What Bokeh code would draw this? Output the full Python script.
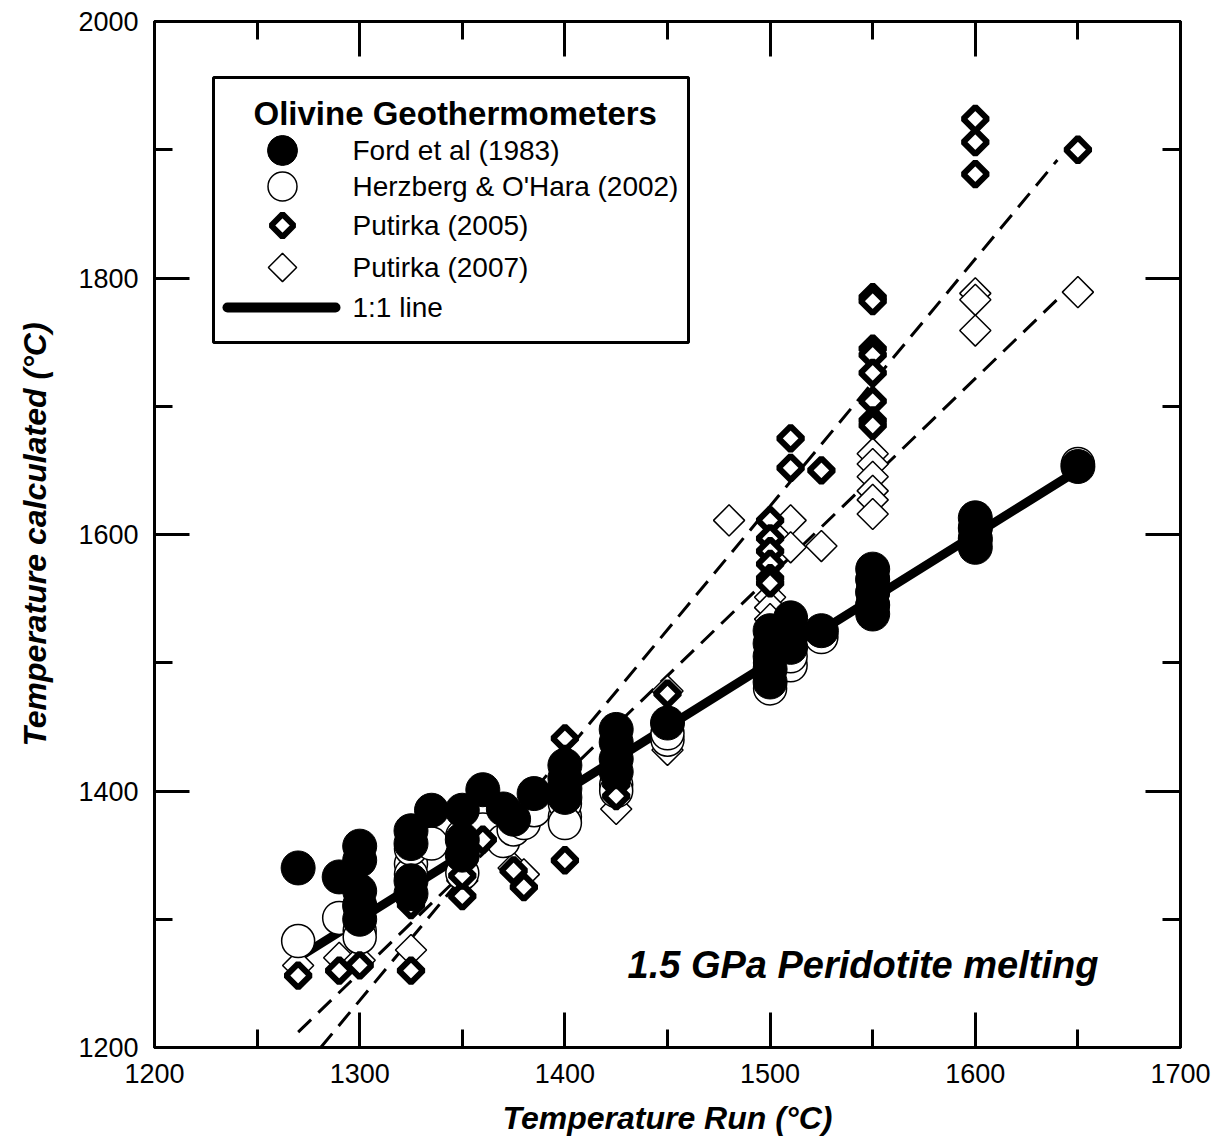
import math
from bokeh.plotting import figure
from bokeh.models import Range1d, FixedTicker, LinearAxis, Label, CustomJSTickFormatter
from bokeh.embed import file_html
from bokeh.resources import INLINE

# ---------------- data ----------------
ford_x = [1270, 1290, 1300, 1300, 1300, 1300, 1300, 1325, 1325, 1325, 1325, 1335,
          1350, 1350, 1350, 1360, 1370, 1375, 1385, 1400, 1400, 1400, 1400,
          1425, 1425, 1425, 1425, 1450, 1500, 1500, 1500, 1500, 1500,
          1510, 1510, 1510, 1525, 1550, 1550, 1550, 1550, 1550,
          1600, 1600, 1600, 1600, 1650]
ford_y = [1340, 1333, 1357, 1346, 1322, 1311, 1300, 1369, 1359, 1330, 1320, 1385,
          1385, 1362, 1350, 1401, 1386, 1378, 1398, 1420, 1410, 1402, 1395,
          1448, 1438, 1425, 1415, 1453, 1525, 1515, 1505, 1495, 1485,
          1535, 1520, 1512, 1525, 1573, 1565, 1555, 1545, 1538,
          1613, 1605, 1597, 1590, 1653]

herz_x = [1270, 1290, 1300, 1300, 1300, 1325, 1325, 1325, 1335, 1350, 1350, 1360,
          1370, 1375, 1380, 1385, 1400, 1400, 1400, 1425, 1425, 1450, 1450,
          1500, 1500, 1500, 1510, 1510, 1525, 1550, 1550, 1550, 1600, 1600, 1650]
herz_y = [1283, 1301, 1291, 1286, 1310, 1343, 1335, 1355, 1359, 1336, 1365, 1370,
          1361, 1370, 1375, 1385, 1380, 1390, 1375, 1405, 1400, 1440, 1445,
          1480, 1490, 1500, 1498, 1505, 1520, 1545, 1555, 1565, 1595, 1605, 1655]

p05_x = [1270, 1290, 1300, 1325, 1325, 1350, 1350, 1360, 1375, 1380,
         1400, 1400, 1400, 1400, 1400, 1400, 1425, 1425, 1425, 1450,
         1500, 1500, 1500, 1500, 1500, 1500, 1510, 1510, 1525,
         1550, 1550, 1550, 1550, 1550, 1550, 1550, 1550, 1600, 1600, 1600, 1650]
p05_y = [1256, 1260, 1264, 1260, 1311, 1318, 1334, 1362, 1338, 1325,
         1441, 1425, 1415, 1405, 1393, 1346, 1420, 1405, 1396, 1476,
         1611, 1597, 1587, 1577, 1566, 1562, 1675, 1652, 1650,
         1785, 1782, 1745, 1740, 1726, 1704, 1689, 1685, 1924, 1906, 1881, 1900]

p07_x = [1270, 1290, 1300, 1325, 1325, 1350, 1350, 1360, 1375, 1380,
         1400, 1400, 1400, 1425, 1425, 1450, 1450, 1450, 1480,
         1500, 1500, 1500, 1500, 1510, 1510, 1525,
         1550, 1550, 1550, 1550, 1550, 1550, 1600, 1600, 1600, 1650]
p07_y = [1264, 1270, 1268, 1276, 1320, 1330, 1345, 1365, 1340, 1335,
         1375, 1385, 1395, 1386, 1400, 1432, 1445, 1478, 1611,
         1551, 1543, 1534, 1525, 1611, 1590, 1591,
         1663, 1655, 1645, 1634, 1627, 1616, 1788, 1783, 1759, 1789]

one_x = [1270, 1650]
one_y = [1270, 1650]
fit05_x = [1281, 1640]
fit05_y = [1200, 1892]
fit07_x = [1270, 1643]
fit07_y = [1212, 1788]

x_ticks = [1200, 1300, 1400, 1500, 1600, 1700]
x_minor = [1250, 1350, 1450, 1550, 1650]
y_ticks = [1200, 1400, 1600, 1800, 2000]
y_minor = [1300, 1500, 1700, 1900]

series_labels = ["Ford et al (1983)", "Herzberg & O'Hara (2002)",
                 "Putirka (2005)", "Putirka (2007)", "1:1 line"]
legend_title = "Olivine Geothermometers"
note_text = "1.5 GPa Peridotite melting"

FONT = "Liberation Sans"

# ---------------- figure ----------------
p = figure(width=1221, height=1146,
           x_range=Range1d(1200, 1700), y_range=Range1d(1200, 2000),
           output_backend="svg", toolbar_location=None,
           min_border_left=154, min_border_right=41,
           min_border_top=21, min_border_bottom=99)
p.grid.visible = False
p.outline_line_color = "black"
p.outline_line_width = 3
p.background_fill_color = "white"
p.border_fill_color = "white"

# pixel-space ranges for the hand-drawn legend box
p.extra_x_ranges = {"px": Range1d(0, 1026)}
p.extra_y_ranges = {"px": Range1d(0, 1026)}

xt = FixedTicker(ticks=x_ticks, minor_ticks=x_minor)
yt = FixedTicker(ticks=y_ticks, minor_ticks=y_minor)
xb = p.below[0]
yl = p.left[0]
xb.ticker = xt
yl.ticker = yt

top = LinearAxis(ticker=xt, formatter=CustomJSTickFormatter(code="return ''"))
right = LinearAxis(ticker=yt, formatter=CustomJSTickFormatter(code="return ''"))
p.add_layout(top, "above")
p.add_layout(right, "right")

for ax in [xb, yl, top, right]:
    ax.major_tick_in = 35
    ax.major_tick_out = 0
    ax.minor_tick_in = 18
    ax.minor_tick_out = 0
    ax.axis_line_width = 3
    ax.major_tick_line_width = 3
    ax.minor_tick_line_width = 3
    ax.axis_line_color = "black"
    ax.major_tick_line_color = "black"
    ax.minor_tick_line_color = "black"
    ax.major_label_text_font = FONT
    ax.major_label_text_font_size = "27px"
    ax.major_label_text_color = "black"
for ax in [top, right]:
    ax.major_label_standoff = 0
    ax.major_label_text_font_size = "1px"

xb.axis_label = "Temperature Run (°C)"
yl.axis_label = "Temperature calculated (°C)"
for ax in [xb, yl]:
    ax.axis_label_text_font = FONT
    ax.axis_label_text_font_size = "32px"
    ax.axis_label_text_font_style = "bold italic"
    ax.axis_label_text_color = "black"
xb.major_label_standoff = 16
xb.axis_label_standoff = 14
yl.major_label_standoff = 16
yl.axis_label_standoff = 22

# ---------------- lines ----------------
p.line(fit05_x, fit05_y, line_color="black", line_width=3, line_dash="18 10")
p.line(fit07_x, fit07_y, line_color="black", line_width=3, line_dash="18 10")
p.line(one_x, one_y, line_color="black", line_width=9, line_cap="round")

# ---------------- markers ----------------
DIAM = math.pi / 4
p.scatter(p07_x, p07_y, marker="square", angle=DIAM, size=22,
          fill_color="white", line_color="black", line_width=1.5)
p.scatter(herz_x, herz_y, marker="circle", size=33,
          fill_color="white", line_color="black", line_width=1.5)
p.scatter(p05_x, p05_y, marker="square", angle=DIAM, size=17,
          fill_color="white", line_color="black", line_width=6)
p.scatter(ford_x, ford_y, marker="circle", size=34,
          fill_color="black", line_color="black", line_width=1)

# ---------------- note ----------------
p.add_layout(Label(x=1660, y=1264, text=note_text, text_align="right",
                   text_baseline="middle", text_font=FONT,
                   text_font_size="38px", text_font_style="bold italic",
                   text_color="black"))

# ---------------- legend (pixel space inside the frame) ----------------
LG = dict(left=59, right=534, bottom=705, top=970,
          title_x=99, title_y=934, mark_x=128, text_x=198,
          rows=[897, 861, 822, 780, 740], line_x0=73, line_x1=181)
kw = dict(x_range_name="px", y_range_name="px")
p.quad(left=[LG["left"]], right=[LG["right"]], bottom=[LG["bottom"]], top=[LG["top"]],
       fill_color="white", line_color="black", line_width=3, **kw)
r = LG["rows"]
p.scatter([LG["mark_x"]], [r[0]], marker="circle", size=30,
          fill_color="black", line_color="black", **kw)
p.scatter([LG["mark_x"]], [r[1]], marker="circle", size=29,
          fill_color="white", line_color="black", line_width=1.5, **kw)
p.scatter([LG["mark_x"]], [r[2]], marker="square", angle=DIAM, size=16,
          fill_color="white", line_color="black", line_width=6, **kw)
p.scatter([LG["mark_x"]], [r[3]], marker="square", angle=DIAM, size=20,
          fill_color="white", line_color="black", line_width=1.5, **kw)
p.line([LG["line_x0"], LG["line_x1"]], [r[4], r[4]], line_color="black",
       line_width=10, line_cap="round", **kw)
p.add_layout(Label(x=LG["title_x"], y=LG["title_y"], text=legend_title,
                   text_baseline="middle", text_font=FONT, text_font_size="33px",
                   text_font_style="bold", text_color="black", **kw))
for lab, yy in zip(series_labels, r):
    p.add_layout(Label(x=LG["text_x"], y=yy, text=lab, text_baseline="middle",
                       text_font=FONT, text_font_size="28px",
                       text_color="black", **kw))

open("out.html", "w").write(file_html(p, INLINE))
